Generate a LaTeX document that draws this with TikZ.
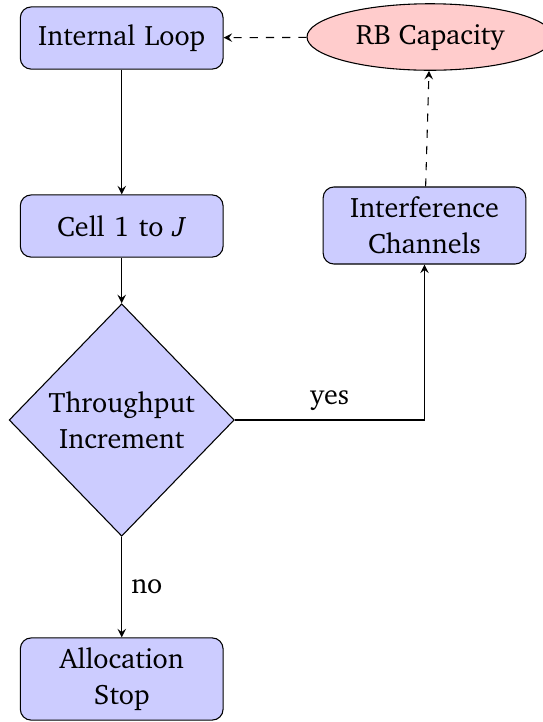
\documentclass[tikz,border=0pt]{standalone}
\usepackage[T1]{fontenc}
\usepackage{charter}
\usetikzlibrary{shapes.geometric,arrows}
\begin{document}
\begin{tikzpicture}[x=0.37pt,y=-0.37pt,>=stealth,
  every node/.style={font=\fontsize{10.4pt}{13.3pt}\selectfont},
  blockbox/.style={rectangle,draw,fill=blue!20,rounded corners=4pt,align=center,
    minimum width=75pt,minimum height=23pt,inner sep=2pt,text width=70pt},
  decbox/.style={diamond,draw,fill=blue!20,align=center,inner sep=0pt,
    minimum width=83.3pt,minimum height=86pt},
  cloudbox/.style={ellipse,draw,fill=red!20,minimum width=91pt,minimum height=24.6pt,inner sep=0pt},
  arrowline/.style={draw,->},
  dashline/.style={draw,->,dashed}]
\useasboundingbox (0,0) rectangle (542,722);
\node[blockbox] (il) at (121.7,38) {Internal Loop};
\node[cloudbox] (rb) at (430,37) {RB Capacity};
\node[blockbox] (cell) at (121.7,226) {Cell 1 to \textit{J}};
\node[blockbox,minimum height=28.5pt] (ic) at (424.5,225.5) {Interference\\Channels};
\node[decbox] (dec) at (121.7,420) {Throughput\\Increment};
\node[blockbox,minimum height=30.4pt] (as) at (121.7,679) {Allocation\\Stop};
\path[arrowline] (il) -- (cell);
\path[arrowline] (cell) -- (dec);
\path[arrowline] (dec) -- node[right] {no} (as);
\path[arrowline] (dec) -| node[pos=0.25,above] {yes} (ic);
\path[dashline] (ic) -- (rb);
\path[dashline] (rb) -- (il);
\end{tikzpicture}
\end{document}
